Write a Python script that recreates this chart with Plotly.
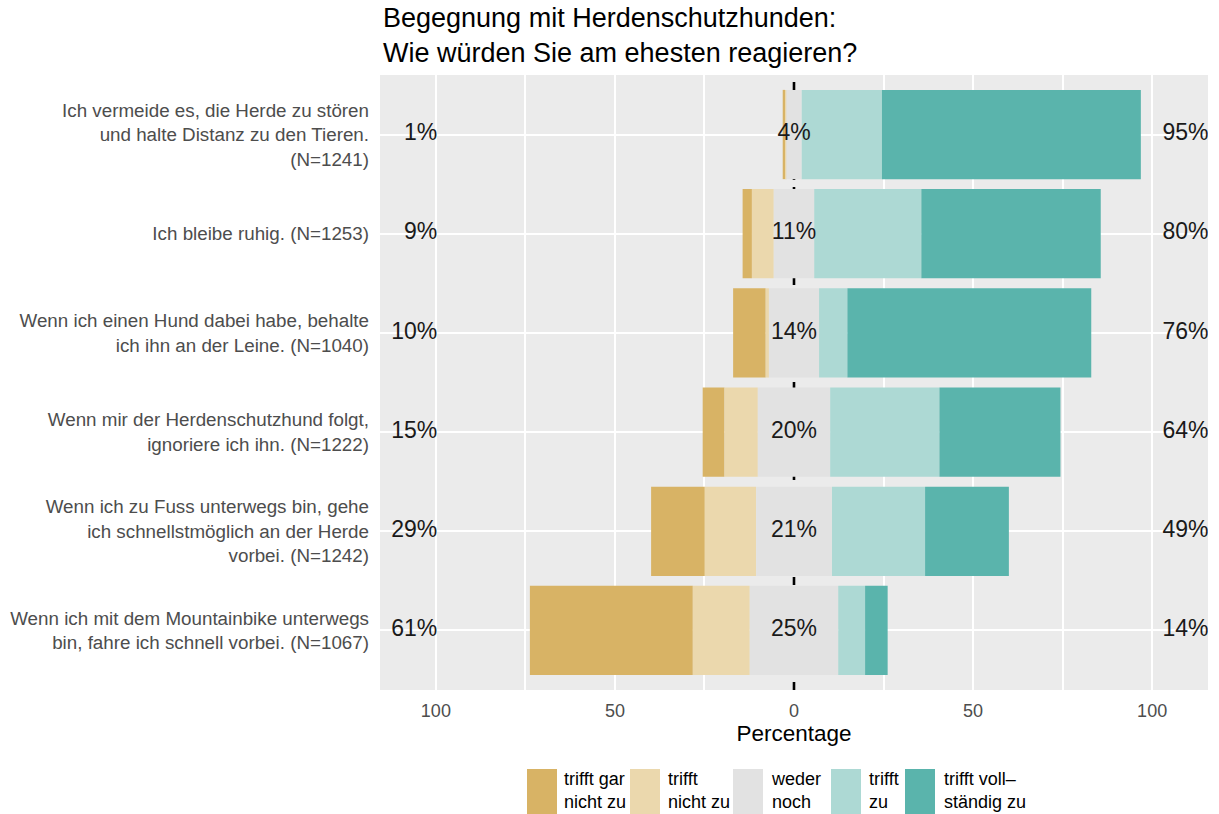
import plotly.graph_objects as go

# ---------------- data ----------------
items = [
    "Ich vermeide es, die Herde zu stören<br>und halte Distanz zu den Tieren.<br>(N=1241)",
    "Ich bleibe ruhig. (N=1253)",
    "Wenn ich einen Hund dabei habe, behalte<br>ich ihn an der Leine. (N=1040)",
    "Wenn mir der Herdenschutzhund folgt,<br>ignoriere ich ihn. (N=1222)",
    "Wenn ich zu Fuss unterwegs bin, gehe<br>ich schnellstmöglich an der Herde<br>vorbei. (N=1242)",
    "Wenn ich mit dem Mountainbike unterwegs<br>bin, fahre ich schnell vorbei. (N=1067)",
]
trifft_gar_nicht_zu = [0.7, 2.6, 9.1, 6.1, 15.0, 45.5]
trifft_nicht_zu = [0.3, 6.1, 0.9, 9.3, 14.3, 15.9]
weder_noch = [4.3, 11.3, 14.0, 20.2, 21.2, 24.7]
trifft_zu = [22.4, 29.9, 7.9, 30.5, 26.0, 7.5]
trifft_vollstaendig_zu = [72.3, 50.1, 68.1, 33.8, 23.4, 6.3]

level_names = ["trifft gar<br>nicht zu", "trifft<br>nicht zu", "weder<br>noch", "trifft<br>zu", "trifft voll–<br>ständig zu"]
level_colors = ["#D8B365", "#EBD8AD", "#E2E2E2", "#ADD9D4", "#5AB4AC"]

x_tickvals = [-100, -50, 0, 50, 100]
x_ticktext = ["100", "50", "0", "50", "100"]
x_gridvals = [-100, -75, -50, -25, 25, 50, 75, 100]

title_text = "Begegnung mit Herdenschutzhunden:<br>Wie würden Sie am ehesten reagieren?"

# ---------------- derived positions (diverging stack) ----------------
half_n = [n / 2 for n in weder_noch]
base_sd = [-(h + d + s) for h, d, s in zip(half_n, trifft_nicht_zu, trifft_gar_nicht_zu)]
base_d = [-(h + d) for h, d in zip(half_n, trifft_nicht_zu)]
base_n = [-h for h in half_n]
base_a = [h for h in half_n]
base_sa = [h + a for h, a in zip(half_n, trifft_zu)]

series = [
    (trifft_gar_nicht_zu, base_sd),
    (trifft_nicht_zu, base_d),
    (weder_noch, base_n),
    (trifft_zu, base_a),
    (trifft_vollstaendig_zu, base_sa),
]

fig = go.Figure()
for (vals, base), name, col in zip(series, level_names, level_colors):
    fig.add_trace(go.Bar(
        y=items, x=vals, base=base, orientation="h", width=0.9,
        marker=dict(color=col, line=dict(width=0)),
        name=name.replace("<br>", " "), showlegend=False, hoverinfo="skip",
    ))

left_lab = [f"{round(a + b):.0f}%" for a, b in zip(trifft_gar_nicht_zu, trifft_nicht_zu)]
mid_lab = [f"{round(n):.0f}%" for n in weder_noch]
right_lab = [f"{round(a + b):.0f}%" for a, b in zip(trifft_zu, trifft_vollstaendig_zu)]

FONT = "Liberation Sans, Arial, sans-serif"
for xpos, labs, pos in [(-99.6, left_lab, "middle left"), (0, mid_lab, "middle center"),
                        (102.9, right_lab, "middle right")]:
    fig.add_trace(go.Scatter(
        x=[xpos] * len(items), y=items, mode="text", text=labs, textposition=pos,
        textfont=dict(size=23, color="#1a1a1a", family=FONT),
        showlegend=False, hoverinfo="skip",
    ))

# dashed zero line (above grid, below bars)
fig.add_shape(type="line", xref="x", yref="paper", x0=0, x1=0, y0=0, y1=1,
              line=dict(color="black", width=2.6, dash="8px,7px"), layer="between")

# ---------------- manual legend ----------------
W, H = 1219, 814
L, R, T, B = 380, 11, 75, 124
pw, ph = W - L - R, H - T - B


def px2x(px):
    return (px - L) / pw


def py2y(py):
    return (H - B - py) / ph


key_left = [527, 630, 733, 831, 905]
text_left = [562, 666, 769, 867, 942]
for kx, tx, name, col in zip(key_left, text_left, level_names, level_colors):
    fig.add_shape(type="rect", xref="paper", yref="paper",
                  x0=px2x(kx), x1=px2x(kx + 30), y0=py2y(769), y1=py2y(814),
                  fillcolor=col, line=dict(width=0), layer="above")
    fig.add_annotation(xref="paper", yref="paper", x=px2x(tx), y=py2y(790),
                       xanchor="left", yanchor="middle", align="left",
                       text=name, showarrow=False,
                       font=dict(size=18, color="black", family=FONT))

fig.update_layout(
    width=W, height=H,
    margin=dict(l=L, r=R, t=T, b=B),
    barmode="overlay",
    paper_bgcolor="white",
    plot_bgcolor="#EBEBEB",
    font=dict(family=FONT, color="black"),
    title=dict(text=title_text, x=px2x(383), xref="paper", xanchor="left",
               y=0.967, yref="container", yanchor="top",
               font=dict(size=27, color="black", family=FONT)),
    xaxis=dict(
        range=[-115.6, 115.6], tickmode="array", tickvals=x_tickvals, ticktext=x_ticktext,
        showgrid=False, zeroline=False,
        minor=dict(tickmode="array", tickvals=x_gridvals, showgrid=True,
                   gridcolor="white", gridwidth=1.6, ticks=""),
        tickfont=dict(size=18, color="#4D4D4D", family=FONT),
        ticks="outside", ticklen=4, tickcolor="rgba(0,0,0,0)", showline=False,
        title=dict(text="Percentage", font=dict(size=22.5, color="black", family=FONT), standoff=4),
    ),
    yaxis=dict(
        categoryorder="array", categoryarray=items,
        range=[5.6, -0.6],
        showgrid=True, gridcolor="white", gridwidth=2, zeroline=False,
        tickfont=dict(size=18.8, color="#4D4D4D", family=FONT),
        ticks="", ticklabelstandoff=10, showline=False,
    ),
)

fig.write_html(
    "out.html",
    config={"displayModeBar": False},
    post_script="document.body.style.margin='0';document.body.style.overflow='hidden';",
)
